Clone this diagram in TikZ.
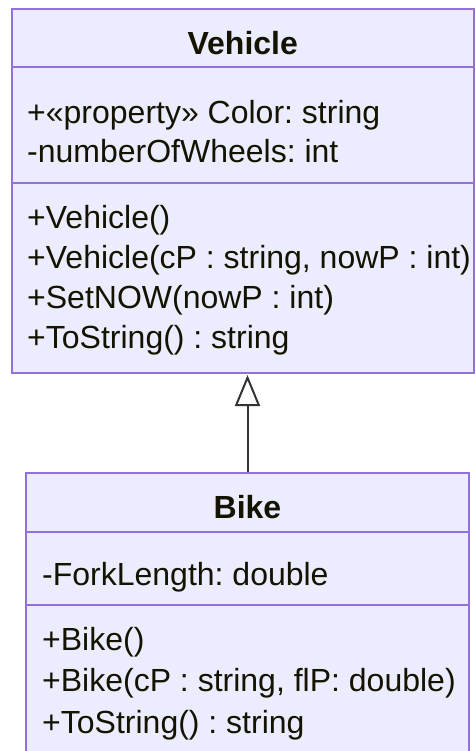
\documentclass[tikz,border=0pt]{standalone}
\usepackage{fontspec}
\setmainfont{Liberation Sans}
\frenchspacing
\usetikzlibrary{arrows.meta}
\definecolor{clsfill}{HTML}{ECECFF}
\definecolor{clsline}{HTML}{9370DB}
\definecolor{txtcol}{HTML}{131300}
\definecolor{edgecol}{HTML}{333333}
\tikzset{
  cls/.style={draw=clsline, fill=clsfill, line width=2pt, rectangle, inner sep=0pt},
  sep/.style={draw=clsline, line width=2pt},
  member/.style={anchor=base west, inner sep=0pt, text=txtcol, font=\fontsize{32}{38}\selectfont\frenchspacing},
  title/.style={anchor=base, inner sep=0pt, text=txtcol, font=\fontsize{32}{38}\selectfont\bfseries},
  inherit/.style={draw=edgecol, line width=2pt, -{Triangle[open, length=31pt, width=25pt, fill=white]}}
}
\begin{document}
\begin{tikzpicture}[x=1pt, y=-1pt]
\useasboundingbox (0,0) rectangle (475,751);
% Vehicle
\node[cls, minimum width=462.5pt, minimum height=364pt] (vehicle) at (242.75,191) {};
\draw[sep] (vehicle.west |- 0,67) -- (vehicle.east |- 0,67);
\draw[sep] (vehicle.west |- 0,183) -- (vehicle.east |- 0,183);
\node[title] (vt) at (242.75,55) {Vehicle};
\node[member] (va1) at (27,123.5) {+«property» Color: string};
\node[member] (va2) at (27,163) {-numberOfWheels: int};
\node[member] (vm1) at (27,228) {+Vehicle()};
\node[member] (vm2) at (27,268) {+Vehicle(cP : string, nowP : int)};
\node[member] (vm3) at (27,308) {+SetNOW(nowP : int)};
\node[member] (vm4) at (27,348) {+ToString() : string};
% Bike
\node[cls, minimum width=443pt, minimum height=300pt] (bike) at (247.5,623) {};
\draw[sep] (bike.west |- 0,532) -- (bike.east |- 0,532);
\draw[sep] (bike.west |- 0,605) -- (bike.east |- 0,605);
\node[title] (bt) at (247.5,518) {Bike};
\node[member] (ba1) at (42,585) {-ForkLength: double};
\node[member] (bm1) at (42,650) {+Bike()};
\node[member] (bm2) at (42,691.5) {+Bike(cP : string, flP: double)};
\node[member] (bm3) at (42,733) {+ToString() : string};
% inheritance
\draw[inherit, shorten >=1pt] (bike.north) -- (bike.north |- vehicle.south);
\end{tikzpicture}
\end{document}
